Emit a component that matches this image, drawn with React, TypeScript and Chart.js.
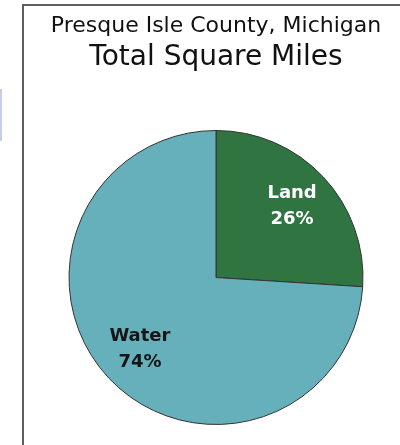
import React, { useEffect, useRef } from "react";
import { Chart, registerables } from "chart.js";

Chart.register(...registerables);

const categories = ["Land", "Water"];
const percentages = [26, 74];
const sliceColors = ["#2f7441", "#66b0bc"];
const labelColors = ["#ffffff", "#151515"];
const titleText = "Presque Isle County, Michigan";
const subtitleText = "Total Square Miles";

const sliceLabelPlugin = {
  id: "sliceLabels",
  afterDatasetsDraw(chart: any) {
    const { ctx } = chart;
    const meta = chart.getDatasetMeta(0);
    meta.data.forEach((arc: any, i: number) => {
      const { x, y, startAngle, endAngle, outerRadius } = arc.getProps(
        ["x", "y", "startAngle", "endAngle", "outerRadius"],
        true
      );
      const mid = (startAngle + endAngle) / 2;
      const r = outerRadius * 0.71;
      const cx = x + Math.cos(mid) * r;
      const cy = y + Math.sin(mid) * r;
      ctx.save();
      ctx.fillStyle = labelColors[i];
      ctx.font = "bold 18px 'DejaVu Sans', sans-serif";
      ctx.textAlign = "center";
      ctx.textBaseline = "middle";
      ctx.fillText(categories[i], cx, cy - 13);
      ctx.fillText(percentages[i] + "%", cx, cy + 13);
      ctx.restore();
    });
  },
};

export default function App() {
  const ref = useRef<HTMLCanvasElement | null>(null);
  useEffect(() => {
    if (!ref.current) return;
    const chart = new Chart(ref.current, {
      type: "pie",
      data: {
        labels: categories,
        datasets: [
          {
            data: percentages,
            backgroundColor: sliceColors,
            borderColor: "#333333",
            borderWidth: 1,
          },
        ],
      },
      options: {
        animation: false,
        responsive: false,
        maintainAspectRatio: false,
        layout: { padding: { left: 32, right: 0, top: 0, bottom: 20 } },
        plugins: {
          legend: { display: false },
          tooltip: { enabled: false },
          title: {
            display: true,
            text: titleText,
            color: "#111111",
            font: { family: "'DejaVu Sans', sans-serif", size: 22, weight: "normal" },
            padding: { top: 13, bottom: 0 },
          },
          subtitle: {
            display: true,
            text: subtitleText,
            color: "#111111",
            font: { family: "'DejaVu Sans', sans-serif", size: 28, weight: "normal" },
            padding: { top: 2, bottom: 55 },
          },
        },
      },
      plugins: [sliceLabelPlugin],
    });
    return () => chart.destroy();
  }, []);

  return (
    <div
      style={{
        position: "absolute",
        left: 0,
        top: 0,
        width: 400,
        height: 445,
        background: "#ffffff",
        overflow: "hidden",
      }}
    >
      <div
        style={{
          position: "absolute",
          left: 0,
          top: 89,
          width: 2,
          height: 52,
          background: "#c8cdea",
        }}
      />
      <div
        style={{
          position: "absolute",
          left: 22,
          top: 4,
          width: 380,
          height: 445,
          borderTop: "2px solid #5e5e5e",
          borderLeft: "2px solid #5e5e5e",
          boxSizing: "border-box",
        }}
      />
      <canvas
        ref={ref}
        width={400}
        height={445}
        style={{ position: "absolute", left: 0, top: 0, width: 400, height: 445 }}
      />
    </div>
  );
}
